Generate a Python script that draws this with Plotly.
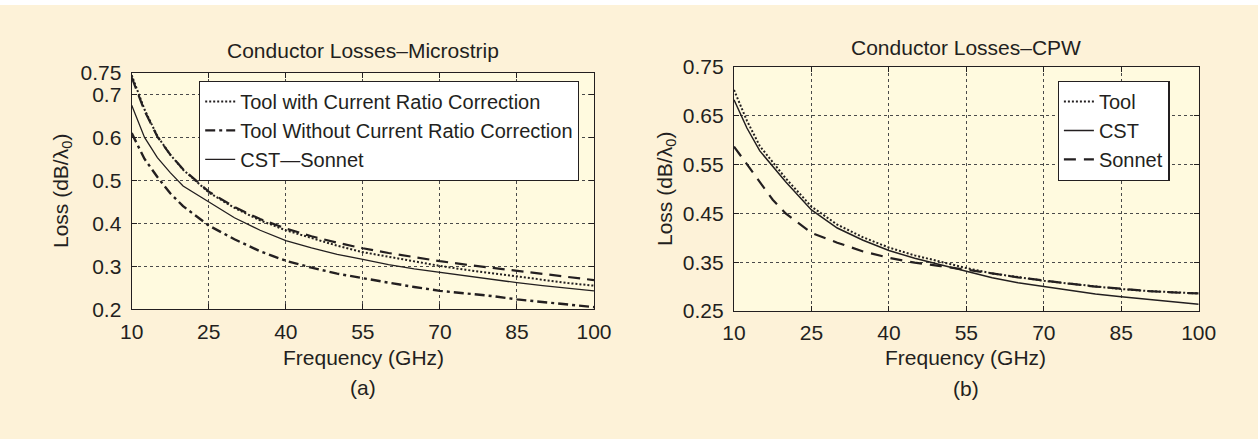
import plotly.graph_objects as go

# ---------------- data ----------------
freq = [10, 12.5, 15, 17.5, 20, 25, 30, 35, 40, 45, 50, 55, 60, 65, 70, 75, 80, 85, 90, 95, 100]

# (a) Microstrip
ms_tool_corr = [0.745, 0.665, 0.603, 0.560, 0.525, 0.472, 0.436, 0.407, 0.384, 0.366, 0.348, 0.333,
                0.322, 0.311, 0.301, 0.292, 0.284, 0.276, 0.268, 0.261, 0.255]
ms_tool_nocorr = [0.610, 0.550, 0.508, 0.470, 0.440, 0.395, 0.363, 0.335, 0.313, 0.297, 0.283, 0.272,
                  0.262, 0.252, 0.243, 0.237, 0.231, 0.223, 0.217, 0.211, 0.205]
ms_cst = [0.675, 0.600, 0.553, 0.518, 0.487, 0.450, 0.413, 0.384, 0.360, 0.343, 0.328, 0.316,
          0.304, 0.294, 0.286, 0.277, 0.269, 0.262, 0.255, 0.249, 0.243]
ms_sonnet = [0.740, 0.662, 0.602, 0.560, 0.526, 0.474, 0.438, 0.410, 0.388, 0.370, 0.355, 0.342,
             0.331, 0.321, 0.312, 0.304, 0.297, 0.290, 0.283, 0.276, 0.268]

# (b) CPW
cpw_tool = [0.703, 0.640, 0.588, 0.555, 0.522, 0.464, 0.427, 0.401, 0.380, 0.364, 0.351, 0.338,
            0.327, 0.319, 0.312, 0.306, 0.300, 0.295, 0.291, 0.288, 0.286]
cpw_cst = [0.683, 0.625, 0.578, 0.547, 0.515, 0.457, 0.420, 0.395, 0.374, 0.358, 0.345, 0.331,
           0.318, 0.308, 0.300, 0.293, 0.285, 0.279, 0.274, 0.269, 0.264]
cpw_sonnet = [0.587, 0.550, 0.515, 0.478, 0.450, 0.410, 0.390, 0.372, 0.359, 0.349, 0.342, 0.335,
              0.327, 0.319, 0.312, 0.306, 0.300, 0.295, 0.291, 0.288, 0.286]

x_ticks = [10, 25, 40, 55, 70, 85, 100]
ms_y_ticks = [0.2, 0.3, 0.4, 0.5, 0.6, 0.7, 0.75]
ms_y_labels = ["0.2", "0.3", "0.4", "0.5", "0.6", "0.7", "0.75"]
cpw_y_ticks = [0.25, 0.35, 0.45, 0.55, 0.65, 0.75]
cpw_y_labels = ["0.25", "0.35", "0.45", "0.55", "0.65", "0.75"]

# ---------------- styling ----------------
W, H = 1258, 439
INK = "#231f20"
OUTER_BG = "#fdf2d8"
PLOT_BG = "#fffadf"
FONT = "Liberation Sans, Arial, sans-serif"
FS = 21
LEG_FS = 20


def px(x):
    return x / W


def py(y):
    return 1 - y / H


fig = go.Figure()

# Microstrip traces
fig.add_trace(go.Scatter(x=freq, y=ms_tool_corr, mode="lines", name="Tool with Current Ratio Correction",
                         line=dict(color=INK, width=2, dash="2px,2px"), xaxis="x", yaxis="y", legend="legend"))
fig.add_trace(go.Scatter(x=freq, y=ms_tool_nocorr, mode="lines", name="Tool Without Current Ratio Correction",
                         line=dict(color=INK, width=2.4, dash="10px,4px,3px,4px"), xaxis="x", yaxis="y",
                         legend="legend"))
fig.add_trace(go.Scatter(x=freq, y=ms_cst, mode="lines", name="CST\u2014Sonnet",
                         line=dict(color=INK, width=1.3), xaxis="x", yaxis="y", legend="legend"))
fig.add_trace(go.Scatter(x=freq, y=ms_sonnet, mode="lines", name="Sonnet", showlegend=False,
                         line=dict(color=INK, width=2.2, dash="12px,7px"), xaxis="x", yaxis="y"))

# CPW traces
fig.add_trace(go.Scatter(x=freq, y=cpw_tool, mode="lines", name="Tool",
                         line=dict(color=INK, width=2, dash="2px,2px"), xaxis="x2", yaxis="y2", legend="legend2"))
fig.add_trace(go.Scatter(x=freq, y=cpw_cst, mode="lines", name="CST",
                         line=dict(color=INK, width=1.5), xaxis="x2", yaxis="y2", legend="legend2"))
fig.add_trace(go.Scatter(x=freq, y=cpw_sonnet, mode="lines", name="Sonnet",
                         line=dict(color=INK, width=2.2, dash="12px,8px"), xaxis="x2", yaxis="y2",
                         legend="legend2"))

axis_common = dict(
    showgrid=True, gridcolor="#4a4a4a", gridwidth=1, griddash="3px,3px",
    showline=True, linecolor=INK, linewidth=1.3, mirror="ticks",
    ticks="inside", ticklen=5, tickcolor=INK, tickwidth=1,
    zeroline=False, tickfont=dict(family=FONT, size=FS, color=INK),
    fixedrange=True, automargin=False,
)

fig.update_layout(
    width=W, height=H,
    margin=dict(l=0, r=0, t=0, b=0, pad=0, autoexpand=False),
    paper_bgcolor=OUTER_BG,
    plot_bgcolor=PLOT_BG,
    font=dict(family=FONT, size=FS, color=INK),
    xaxis=dict(domain=[px(131.7), px(594)], range=[10, 100], tickvals=x_ticks, anchor="y",
               ticklabelstandoff=3, **axis_common),
    yaxis=dict(domain=[py(309.3), py(73)], range=[0.2, 0.75], tickvals=ms_y_ticks, ticktext=ms_y_labels,
               anchor="x", ticklabelstandoff=5, **axis_common),
    xaxis2=dict(domain=[px(734), px(1198.7)], range=[10, 100], tickvals=x_ticks, anchor="y2",
                ticklabelstandoff=3, **axis_common),
    yaxis2=dict(domain=[py(311), py(67)], range=[0.25, 0.75], tickvals=cpw_y_ticks, ticktext=cpw_y_labels,
                anchor="x2", ticklabelstandoff=5, **axis_common),
    legend=dict(x=px(199), y=py(80.7), xanchor="left", yanchor="top", bgcolor="white",
                bordercolor=INK, borderwidth=1.2, itemwidth=30, tracegroupgap=0,
                font=dict(family=FONT, size=LEG_FS, color=INK)),
    legend2=dict(x=px(1057.7), y=py(80.7), xanchor="left", yanchor="top", bgcolor="white",
                 bordercolor=INK, borderwidth=1.2, itemwidth=30, tracegroupgap=0,
                 font=dict(family=FONT, size=LEG_FS, color=INK)),
    shapes=[dict(type="rect", xref="paper", yref="paper", x0=0, x1=1, y0=py(5), y1=1,
                 fillcolor="white", line=dict(width=0), layer="below")],
    annotations=[
        dict(text="Conductor Losses\u2013Microstrip", x=px(363), y=py(50), xref="paper", yref="paper",
             showarrow=False, xanchor="center", yanchor="middle", font=dict(size=FS)),
        dict(text="Conductor Losses\u2013CPW", x=px(966), y=py(47.7), xref="paper", yref="paper",
             showarrow=False, xanchor="center", yanchor="middle", font=dict(size=FS)),
        dict(text="Frequency (GHz)", x=px(363), y=py(357), xref="paper", yref="paper",
             showarrow=False, xanchor="center", yanchor="middle", font=dict(size=FS)),
        dict(text="Frequency (GHz)", x=px(966), y=py(357), xref="paper", yref="paper",
             showarrow=False, xanchor="center", yanchor="middle", font=dict(size=FS)),
        dict(text="(a)", x=px(363), y=py(387), xref="paper", yref="paper",
             showarrow=False, xanchor="center", yanchor="middle", font=dict(size=FS)),
        dict(text="(b)", x=px(966), y=py(388), xref="paper", yref="paper",
             showarrow=False, xanchor="center", yanchor="middle", font=dict(size=FS)),
        dict(text="Loss (dB/\u03bb<sub>0</sub>)", x=px(62), y=py(191), xref="paper", yref="paper",
             showarrow=False, textangle=-90, xanchor="center", yanchor="middle", font=dict(size=FS)),
        dict(text="Loss (dB/\u03bb<sub>0</sub>)", x=px(666), y=py(189), xref="paper", yref="paper",
             showarrow=False, textangle=-90, xanchor="center", yanchor="middle", font=dict(size=FS)),
    ],
)

fig.write_html(
    "out.html",
    config={"displayModeBar": False, "responsive": False},
    post_script="document.body.style.margin='0';document.body.style.padding='0';"
                "document.body.style.overflow='hidden';",
)
